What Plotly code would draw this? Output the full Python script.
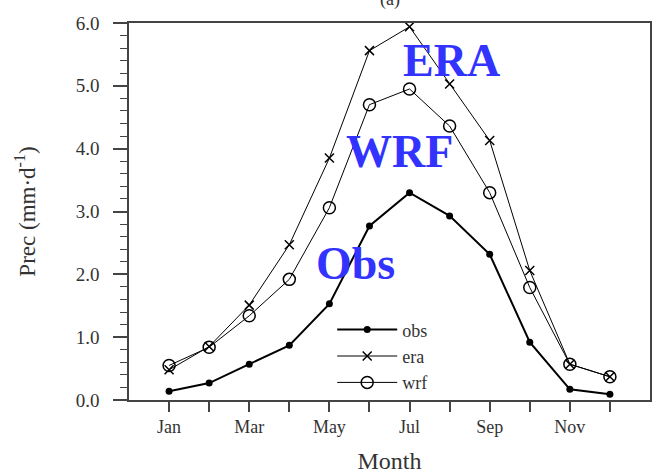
import plotly.graph_objects as go

months = list(range(1, 13))
label_months = [1, 3, 5, 7, 9, 11]
month_labels = ["Jan", "Mar", "May", "Jul", "Sep", "Nov"]
other_months = [2, 4, 6, 8, 10, 12]

obs = [0.14, 0.27, 0.57, 0.87, 1.53, 2.77, 3.30, 2.93, 2.32, 0.92, 0.17, 0.09]
era = [0.48, 0.85, 1.51, 2.47, 3.85, 5.56, 5.94, 5.03, 4.13, 2.06, 0.57, 0.37]
wrf = [0.55, 0.84, 1.34, 1.92, 3.06, 4.70, 4.95, 4.36, 3.30, 1.79, 0.57, 0.37]

serif = "Liberation Serif, Times New Roman, serif"
axis_col = "#444444"
label_col = "#333333"

fig = go.Figure()
fig.add_trace(go.Scatter(
    x=months, y=obs, name="obs", mode="lines+markers",
    line=dict(color="black", width=2),
    marker=dict(symbol="circle", size=7, color="black"),
))
fig.add_trace(go.Scatter(
    x=months, y=era, name="era", mode="lines+markers",
    line=dict(color="black", width=1),
    marker=dict(symbol="x-thin", size=9, color="black",
                line=dict(color="black", width=1.5)),
))
fig.add_trace(go.Scatter(
    x=months, y=wrf, name="wrf", mode="lines+markers",
    line=dict(color="black", width=1),
    marker=dict(symbol="circle-open", size=12, color="black",
                line=dict(color="black", width=1.5)),
))

for txt, x, y in [("ERA", 8.05, 5.4), ("WRF", 6.75, 3.95), ("Obs", 5.65, 2.17)]:
    fig.add_annotation(
        x=x, y=y, xref="x", yref="y", text=f"<b>{txt}</b>", showarrow=False,
        font=dict(family=serif, size=46, color="#3333ff"),
    )

fig.add_annotation(
    x=6.5, y=1.0, xref="x", yref="paper", yanchor="bottom", yshift=11, text="(a)",
    showarrow=False, font=dict(family=serif, size=18, color=label_col),
)

fig.update_layout(
    width=654, height=476,
    margin=dict(l=129, r=2, t=23, b=76),
    paper_bgcolor="white", plot_bgcolor="white",
    showlegend=True,
    legend=dict(
        x=0.39, y=0.235, xanchor="left", yanchor="top",
        bgcolor="rgba(0,0,0,0)", tracegroupgap=0, itemwidth=60,
        font=dict(family=serif, size=18, color=label_col),
    ),
    font=dict(family=serif, color=label_col),
)

fig.update_xaxes(
    range=[0, 13], tickvals=label_months, ticktext=month_labels,
    ticks="outside", ticklen=10, tickwidth=1.5, tickcolor=axis_col,
    minor=dict(tickvals=other_months, ticks="outside", ticklen=10, tickwidth=1.5,
               tickcolor=axis_col, showgrid=False),
    showline=True, linecolor=axis_col, linewidth=1.5, mirror=True,
    showgrid=False, zeroline=False,
    tickfont=dict(family=serif, size=18, color=label_col),
    title=dict(text="Month", font=dict(family=serif, size=24, color=label_col), standoff=16),
)
fig.update_yaxes(
    range=[0, 6], tickvals=[0, 1, 2, 3, 4, 5, 6],
    ticktext=["0.0", "1.0", "2.0", "3.0", "4.0", "5.0", "6.0"],
    ticks="outside", ticklen=14, tickwidth=1.5, tickcolor=axis_col,
    ticklabelstandoff=10,
    minor=dict(dtick=0.2, ticks="outside", ticklen=7, tickwidth=1, tickcolor=axis_col, showgrid=False),
    showline=True, linecolor=axis_col, linewidth=1.5, mirror=True,
    showgrid=False, zeroline=False,
    tickfont=dict(family=serif, size=19, color=label_col),
    title=dict(text="Prec (mm·d<sup>-1</sup>)", font=dict(family=serif, size=23, color=label_col), standoff=34),
)

fig.write_html("out.html")
